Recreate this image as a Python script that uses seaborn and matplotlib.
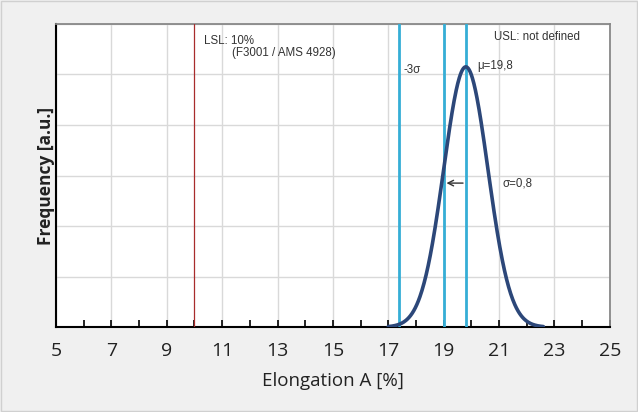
import numpy as np
import pandas as pd
import seaborn as sns
import matplotlib.pyplot as plt
from matplotlib.patches import Rectangle

# distribution parameters
mu = 19.8
sigma = 0.8
lsl = 10.0
peak_height = 5.15  # peak in gridline units

x_ticks = [5, 7, 9, 11, 13, 15, 17, 19, 21, 23, 25]

sns.set_style("white")
plt.rcParams["font.family"] = ["Liberation Sans", "DejaVu Sans"]

x = np.linspace(mu - 3.5 * sigma, mu + 3.5 * sigma, 300)
y = peak_height * np.exp(-0.5 * ((x - mu) / sigma) ** 2)
curve = pd.DataFrame({"x": x, "y": y})

fig = plt.figure(figsize=(6.38, 4.12), dpi=100)
fig.patch.set_facecolor("#f0f0f0")
fig.patches.append(Rectangle((0.002, 0.002), 0.996, 0.996, transform=fig.transFigure,
                             fill=False, edgecolor="#d0d0d0", linewidth=1))
ax = fig.add_axes([0.0878, 0.206, 0.868, 0.736])
ax.set_facecolor("white")

sns.lineplot(data=curve, x="x", y="y", ax=ax, color="#2c4779", linewidth=2.6, zorder=4)

# vertical markers
ax.axvline(lsl, color="#a82c2c", linewidth=0.9, zorder=3)
for v in [mu - 3 * sigma, mu - sigma, mu]:
    ax.axvline(v, color="#35aed6", linewidth=2, zorder=3)

ax.annotate("", xy=(mu - sigma, 2.85), xytext=(mu, 2.85),
            arrowprops=dict(arrowstyle="->", color="#333333", lw=1), zorder=5)

fs = 8.3
tc = "#333333"
ax.text(10.34, 5.66, "LSL: 10%", fontsize=fs, color=tc, va="center")
ax.text(11.35, 5.43, "(F3001 / AMS 4928)", fontsize=fs, color=tc, va="center")
ax.text(20.81, 5.74, "USL: not defined", fontsize=fs, color=tc, va="center")
ax.text(17.56, 5.09, "-3σ", fontsize=fs, color=tc, va="center")
ax.text(20.2, 5.17, "μ=19,8", fontsize=fs, color=tc, va="center")
ax.text(21.14, 2.85, "σ=0,8", fontsize=fs, color=tc, va="center")

ax.set_xlim(5, 25)
ax.set_ylim(0, 6)
ax.set_xticks(x_ticks)
ax.set_xticks(range(6, 25, 2), minor=True)
ax.set_yticks(range(0, 7))
ax.set_yticklabels([])
ax.grid(True, which="major", color="#d9d9d9", linewidth=1)
ax.tick_params(axis="x", which="both", direction="in", bottom=True, length=5, width=1.2,
               labelsize=14, pad=11, colors="black")
ax.tick_params(axis="y", left=False)
for lab in ax.get_xticklabels():
    lab.set_fontfamily(["Open Sans", "DejaVu Sans"])
    lab.set_color("#222222")

ax.set_xlabel("Elongation A [%]", fontsize=13.5, family=["Open Sans", "DejaVu Sans"],
              color="#222222", labelpad=8)
ax.set_ylabel("Frequency [a.u.]", fontsize=12.5, fontweight="bold",
              family=["Open Sans", "DejaVu Sans"], color="#222222", labelpad=-6)

for side in ["top", "right"]:
    ax.spines[side].set_color("#888888")
    ax.spines[side].set_linewidth(1.3)
for side in ["left", "bottom"]:
    ax.spines[side].set_color("black")
    ax.spines[side].set_linewidth(1.5)

fig.savefig("out.png", dpi=100, facecolor=fig.get_facecolor())
